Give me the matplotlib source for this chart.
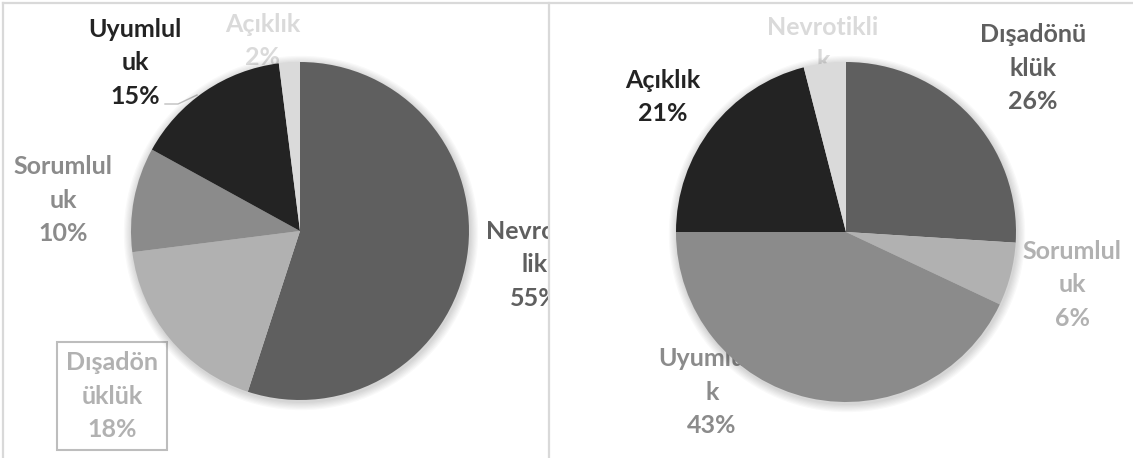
import matplotlib
matplotlib.use("Agg")
import matplotlib.pyplot as plt
from matplotlib.patches import Circle
from matplotlib.lines import Line2D

# ---------------- data ----------------
left_categories = ["Nevrotiklik", "Dışadönüklük", "Sorumluluk", "Uyumluluk", "Açıklık"]
left_values = [55, 18, 10, 15, 2]

right_categories = ["Dışadönüklük", "Sorumluluk", "Uyumluluk", "Açıklık", "Nevrotiklik"]
right_values = [26, 6, 43, 21, 4]

# ---------------- style / layout ----------------
slice_colors = ["#5f5f5f", "#b1b1b1", "#8b8b8b", "#232323", "#dadada"]
W, H = 1133, 458
SEP = 549

left_wrap = [8, 7, 8, 7, None]
right_wrap = [8, 8, 8, None, 10]
# label block centres in pixel coordinates of the image
left_label_pos = [(535, 265), (112, 396), (63, 200), (135, 63), (263, 41)]
right_label_pos = [(1033, 68), (1072, 285), (712, 392), (663, 97), (823, 61)]

FONT = ["Lato", "DejaVu Sans"]
FS = 18

fig = plt.figure(figsize=(W / 100, H / 100), dpi=100)
fig.patch.set_facecolor("white")


def label_text(name, wrap, val):
    if wrap is None:
        return f"{name}\n{val}%"
    return f"{name[:wrap]}\n{name[wrap:]}\n{val}%"


def draw_panel(x0, x1, cx, cy, R, cats, vals, wraps, positions, boxed=None):
    ax = fig.add_axes([x0 / W, 0, (x1 - x0) / W, 1])
    # soft shadow
    for i in range(7):
        ax.add_patch(Circle((cx - x0 + 1, H - cy - 2), R + 1 + i * 1.2,
                            facecolor="black", edgecolor="none",
                            alpha=0.025, zorder=2))
    wedges, _ = ax.pie(vals, colors=slice_colors, startangle=90,
                       counterclock=False, center=(cx - x0, H - cy), radius=R,
                       wedgeprops=dict(linewidth=0))
    for w in wedges:
        w.set_zorder(3)
    for i, (name, wrap, val, (px, py)) in enumerate(zip(cats, wraps, vals, positions)):
        kw = {}
        if boxed == i:
            kw["bbox"] = dict(boxstyle="square,pad=0.36", facecolor="none",
                              edgecolor="#bdbdbd", linewidth=1.5)
        ax.text(px - x0, H - py, label_text(name, wrap, val), ha="center",
                va="center", ma="center", color=slice_colors[i], fontsize=FS,
                fontweight="bold", family=FONT, linespacing=1.56,
                zorder=1, clip_on=True, **kw)
    ax.set_xlim(0, x1 - x0)
    ax.set_ylim(0, H)
    ax.set_aspect("auto")
    ax.axis("off")
    return ax


axl = draw_panel(0, SEP, 300, 231, 169, left_categories, left_values,
                 left_wrap, left_label_pos, boxed=1)
# leader line for the "Uyumluluk" label
axl.add_line(Line2D([165, 178, 197], [H - 104, H - 104, H - 95],
                    color="#bfbfbf", linewidth=1, zorder=1))

axr = draw_panel(SEP, W, 846, 232, 170, right_categories, right_values,
                 right_wrap, right_label_pos)

# frame lines
frame_col = "#d9d9d9"
fig.add_artist(Line2D([3 / W, 1], [1 - 3 / H, 1 - 3 / H], transform=fig.transFigure,
                      color=frame_col, linewidth=1.6))
fig.add_artist(Line2D([3 / W, 3 / W], [0, 1 - 3 / H], transform=fig.transFigure,
                      color=frame_col, linewidth=1.6))
fig.add_artist(Line2D([SEP / W, SEP / W], [0, 1 - 3 / H], transform=fig.transFigure,
                      color=frame_col, linewidth=1.6))

fig.savefig("out.png", dpi=100, facecolor="white")
